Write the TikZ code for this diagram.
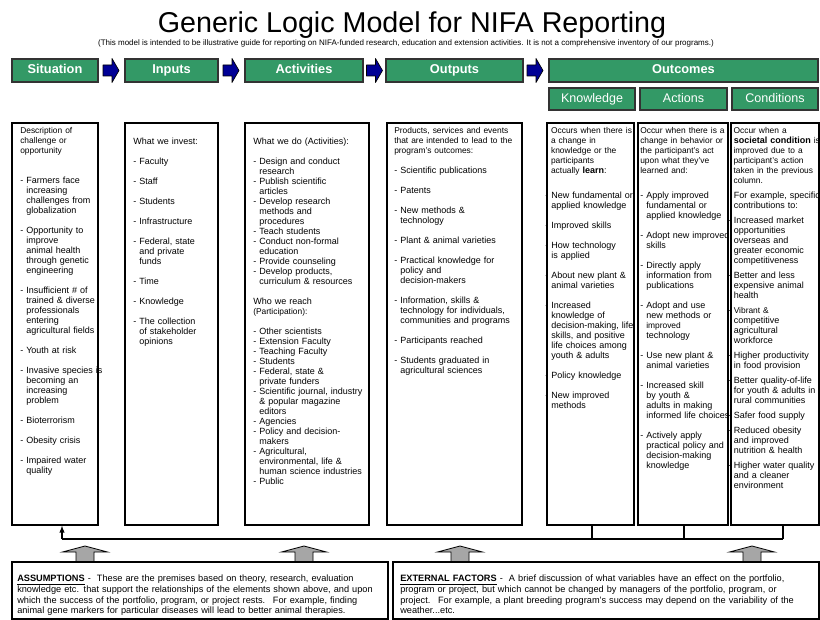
\documentclass[tikz,border=0pt]{standalone}
\usepackage{fontspec}
\setmainfont{Liberation Sans}

\definecolor{nifagreen}{RGB}{51,153,102}
\definecolor{nifablue}{RGB}{0,0,150}
\newcommand{\bodyfont}{\fontsize{6.75}{7.5}\selectfont}
\newcommand{\introfont}{\fontsize{6.3}{7.5}\selectfont}
\newcommand{\indt}{\hphantom{- }}

\begin{document}
\begin{tikzpicture}[x=0.75pt,y=0.75pt,yscale=-1,xscale=1,
  hdr/.style={draw=black!80, line width=0.8pt, fill=nifagreen, text=white, inner sep=0pt, minimum height=17.25pt, text height=7pt, text depth=2pt, font=\fontsize{9.6}{10}\selectfont\bfseries},
  subhdr/.style={hdr, minimum height=16.5pt, font=\fontsize{9.4}{10}\selectfont},
  flowarrow/.style={draw=black, fill=nifablue, line width=0.5pt, line join=round},
  colbox/.style={draw=black, line width=1pt, inner sep=0pt, minimum height=301.5pt},
  coltext/.style={anchor=north west, inner sep=0pt, text width=120pt, align=left, font=\bodyfont},
  upblock/.style={draw=black, fill=black!35, line width=0.6pt},
  notebox/.style={draw=black, line width=1pt, inner sep=0pt, minimum height=42.75pt},
  notetext/.style={anchor=north west, inner sep=0pt, text width=330pt, align=left, font=\fontsize{6.9}{8}\selectfont}]
\useasboundingbox (0,0) rectangle (820,620);
\clip (0,0) rectangle (820,620);

% Title
\node[anchor=base, font=\fontsize{21.5}{24}\selectfont] (title) at (412,33) {Generic Logic Model for NIFA Reporting};
\node[anchor=base, font=\fontsize{6}{7}\selectfont] (subtitle) at (406,46) {(This model is intended to be illustrative guide for reporting on NIFA-funded research, education and extension activities. It is not a comprehensive inventory of our programs.)};

% Header bars
\node[hdr, minimum width=64.5pt] (hsit) at (55,70.5) {Situation};
\node[hdr, minimum width=69.75pt] (hinp) at (171.5,70.5) {Inputs};
\node[hdr, minimum width=88.5pt] (hact) at (304,70.5) {Activities};
\node[hdr, minimum width=102.75pt] (hout) at (454.5,70.5) {Outputs};
\node[hdr, minimum width=201.75pt] (houtc) at (683.5,70.5) {Outcomes};
\node[subhdr, minimum width=64.5pt] (hknow) at (592,99) {Knowledge};
\node[subhdr, minimum width=65.25pt] (hactn) at (683.5,99) {Actions};
\node[subhdr, minimum width=64.5pt] (hcond) at (775,99) {Conditions};

% Blue arrows between the bars
\foreach \ax in {111,231,374.5,535}
  \draw[flowarrow] (\ax-8,65) -- (\ax+1,65) -- (\ax+1,58.5) -- (\ax+8,70.5) -- (\ax+1,82.5) -- (\ax+1,76) -- (\ax-8,76) -- cycle;

% Column boxes
\node[colbox, minimum width=64.5pt] (sit) at (55,324) {};
\node[colbox, minimum width=69.75pt] (inp) at (171.5,324) {};
\node[colbox, minimum width=93pt] (act) at (307,324) {};
\node[colbox, minimum width=101.25pt] (outp) at (454.5,324) {};
\node[colbox, minimum width=65.25pt] (know) at (590.5,324) {};
\node[colbox, minimum width=67.5pt] (actn) at (683,324) {};
\node[colbox, minimum width=66pt] (cond) at (775,324) {};

% Text Node
\node[coltext] (sittext) at (20,127) {{\introfont Description of\\ challenge or\\ opportunity}\\[15pt]
- Farmers face\\\indt increasing\\\indt challenges from\\\indt globalization\\[7.5pt]
- Opportunity to\\\indt improve\\\indt animal health\\\indt through genetic\\\indt engineering\\[7.5pt]
- Insufficient \# of\\\indt trained \& diverse\\\indt professionals\\\indt entering\\\indt agricultural fields\\[7.5pt]
- Youth at risk\\[7.5pt]
- Invasive species is\\\indt becoming an\\\indt increasing\\\indt problem\\[7.5pt]
- Bioterrorism\\[7.5pt]
- Obesity crisis\\[7.5pt]
- Impaired water\\\indt quality};
% Text Node
\node[coltext] (inptext) at (133,138) {What we invest:\\[7.5pt]
- Faculty\\[7.5pt]
- Staff\\[7.5pt]
- Students\\[7.5pt]
- Infrastructure\\[7.5pt]
- Federal, state\\\indt and private\\\indt funds\\[7.5pt]
- Time\\[7.5pt]
- Knowledge\\[7.5pt]
- The collection\\\indt of stakeholder\\\indt opinions};
% Text Node
\node[coltext] (acttext) at (253,138) {What we do (Activities):\\[7.5pt]
- Design and conduct\\\indt research\\
- Publish scientific\\\indt articles\\
- Develop research\\\indt methods and\\\indt procedures\\
- Teach students\\
- Conduct non-formal\\\indt education\\
- Provide counseling\\
- Develop products,\\\indt curriculum \& resources\\[7.5pt]
Who we reach\\{\introfont (Participation):}\\[7.5pt]
- Other scientists\\
- Extension Faculty\\
- Teaching Faculty\\
- Students\\
- Federal, state \&\\\indt private funders\\
- Scientific journal, industry\\\indt \& popular magazine\\\indt editors\\
- Agencies\\
- Policy and decision-\\\indt makers\\
- Agricultural,\\\indt environmental, life \&\\\indt human science industries\\
- Public};
% Text Node
\node[coltext] (outtext) at (394,127) {{\introfont Products, services and events\\ that are intended to lead to the\\ program's outcomes:}\\[7.5pt]
- Scientific publications\\[7.5pt]
- Patents\\[7.5pt]
- New methods \&\\\indt technology\\[7.5pt]
- Plant \& animal varieties\\[7.5pt]
- Practical knowledge for\\\indt policy and\\\indt decision-makers\\[7.5pt]
- Information, skills \&\\\indt technology for individuals,\\\indt communities and programs\\[7.5pt]
- Participants reached\\[7.5pt]
- Students graduated in\\\indt agricultural sciences};
% Text Node
\node[coltext] (knowtext) at (545,127) {{\introfont \indt Occurs when there is\\\indt a change in\\\indt knowledge or the\\\indt participants\\\indt actually} \textbf{learn}:\\[11pt]
- New fundamental or\\\indt applied knowledge\\[7.5pt]
- Improved skills\\[7.5pt]
- How technology\\\indt is applied\\[7.5pt]
- About new plant \&\\\indt animal varieties\\[7.5pt]
- Increased\\\indt knowledge of\\\indt decision-making, life\\\indt skills, and positive\\\indt life choices among\\\indt youth \& adults\\[7.5pt]
- Policy knowledge\\[7.5pt]
- New improved\\\indt methods};
% Text Node
\node[coltext] (actntext) at (640,127) {{\introfont Occur when there is a\\ change in behavior or\\ the participant's act\\ upon what they've\\ learned and:}\\[11pt]
- Apply improved\\\indt fundamental or\\\indt applied knowledge\\[7.5pt]
- Adopt new improved\\\indt skills\\[7.5pt]
- Directly apply\\\indt information from\\\indt publications\\[7.5pt]
- Adopt and use\\\indt new methods or\\\indt {\introfont improved}\\\indt technology\\[7.5pt]
- Use new plant \&\\\indt animal varieties\\[7.5pt]
- Increased skill\\\indt by youth \&\\\indt adults in making\\\indt informed life choices\\[7.5pt]
- Actively apply\\\indt practical policy and\\\indt decision-making\\\indt knowledge};
% Text Node
\node[coltext] (condtext) at (727.5,127) {{\introfont \indt Occur when a}\\\indt\textbf{societal condition} {\introfont is}\\{\introfont \indt improved due to a\\\indt participant's action\\\indt taken in the previous\\\indt column.}\\[3.75pt]
\indt For example, specific\\\indt contributions to:\\[3.75pt]
- Increased market\\\indt opportunities\\\indt overseas and\\\indt greater economic\\\indt competitiveness\\[3.75pt]
- Better and less\\\indt expensive animal\\\indt health\\[3.75pt]
- {\introfont Vibrant \&}\\\indt competitive\\\indt agricultural\\\indt workforce\\[3.75pt]
- Higher productivity\\\indt in food provision\\[3.75pt]
- Better quality-of-life\\\indt for youth \& adults in\\\indt rural communities\\[3.75pt]
- Safer food supply\\[3.75pt]
- Reduced obesity\\\indt and improved\\\indt nutrition \& health\\[3.75pt]
- Higher water quality\\\indt and a cleaner\\\indt environment};

% Feedback line under the columns
\coordinate (fbL) at (62,539);
\coordinate (fbK) at (592,539);
\coordinate (fbA) at (684,539);
\coordinate (fbR) at (783,539);
\draw[line width=0.8pt] (fbL) -- (fbR);
\draw[line width=0.8pt, -latex] (fbL) -- (fbL |- sit.south);
\draw[line width=0.8pt] (fbK) -- (fbK |- know.south);
\draw[line width=0.8pt] (fbA) -- (fbA |- actn.south);
\draw[line width=0.8pt] (fbR) -- (fbR |- cond.south);

% Gray block arrows
\foreach \bx in {85,304,460,752}
  \draw[upblock] (\bx-9,562) -- (\bx-9,552) -- (\bx-22.5,552) -- (\bx,546) -- (\bx+22.5,552) -- (\bx+9,552) -- (\bx+9,562) -- cycle;

% Assumptions and external factors
\node[notebox, minimum width=282pt] (assum) at (200,590.5) {};
\node[notebox, minimum width=319.5pt] (extf) at (606,590.5) {};
% Text Node
\node[notetext] (assumtext) at (17,575) {\underline{\textbf{ASSUMPTIONS}} -~ These are the premises based on theory, research, evaluation\\
knowledge etc. that support the relationships of the elements shown above, and upon\\
which the success of the portfolio, program, or project rests.~ For example, finding\\
animal gene markers for particular diseases will lead to better animal therapies.};
% Text Node
\node[notetext] (extftext) at (400,575) {\underline{\textbf{EXTERNAL FACTORS}} -~ A brief discussion of what variables have an effect on the portfolio,\\
program or project, but which cannot be changed by managers of the portfolio, program, or\\
project.~ For example, a plant breeding program's success may depend on the variability of the\\
weather...etc.};

\end{tikzpicture}
\end{document}
